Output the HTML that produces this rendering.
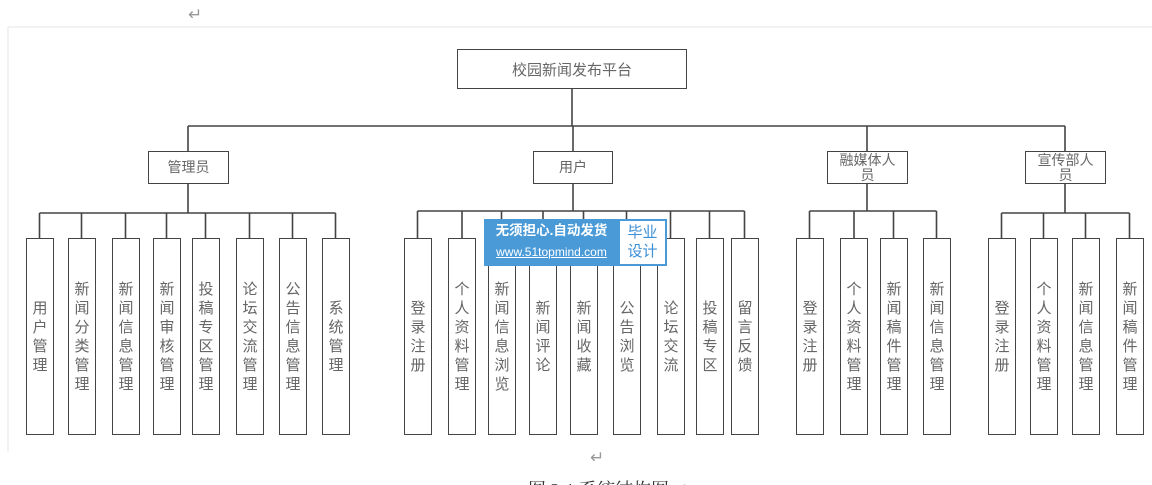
<!DOCTYPE html>
<html><head><meta charset="utf-8"><style>
body{margin:0;background:#fff;}
#c{position:relative;width:1152px;height:485px;overflow:hidden;background:#fff;font-family:"Liberation Sans","Noto Sans CJK SC",sans-serif;}
.b{position:absolute;box-sizing:border-box;border:1.5px solid #444;background:#fff;color:#666;display:flex;align-items:center;justify-content:center;text-align:center;}
.l{top:238px;width:28px;height:197px;font-size:15px;line-height:19px;}
.m{top:151px;height:33px;width:81px;font-size:14px;line-height:15px;}
svg{position:absolute;left:0;top:0;}
</style></head><body><div id="c">
<svg width="1152" height="485">
<line x1="8" y1="27" x2="1152" y2="27" stroke="#e4e4e4" stroke-width="1"/>
<line x1="8" y1="27" x2="8" y2="452" stroke="#e4e4e4" stroke-width="1"/>
<g stroke="#444" stroke-width="1.6" fill="none">
<line x1="572" y1="89" x2="572" y2="126"/>
<line x1="188" y1="126" x2="1065" y2="126"/>
<line x1="188" y1="126" x2="188" y2="151"/><line x1="573" y1="126" x2="573" y2="151"/>
<line x1="867" y1="126" x2="867" y2="151"/><line x1="1065" y1="126" x2="1065" y2="151"/>
<line x1="188" y1="183" x2="188" y2="213"/><line x1="39.5" y1="213" x2="335.5" y2="213"/>
<path d="M39.5 213V238M81.5 213V238M125.5 213V238M166.5 213V238M205.5 213V238M249.5 213V238M292.5 213V238M335.5 213V238"/>
<line x1="573" y1="183" x2="573" y2="211"/><line x1="417.5" y1="211" x2="744.5" y2="211"/>
<path d="M417.5 211V238M462 211V238M501.5 211V238M543 211V238M583.5 211V238M626.5 211V238M670.5 211V238M709.5 211V238M744.5 211V238"/>
<line x1="867" y1="183" x2="867" y2="211"/><line x1="809.5" y1="211" x2="936.5" y2="211"/>
<path d="M809.5 211V238M854 211V238M893.5 211V238M936.5 211V238"/>
<line x1="1065" y1="183" x2="1065" y2="213"/><line x1="1001.5" y1="213" x2="1129.5" y2="213"/>
<path d="M1001.5 213V238M1043.5 213V238M1085.5 213V238M1129.5 213V238"/>
</g>
<text x="188" y="20" font-size="17" fill="#999">↵</text>
<text x="590" y="463" font-size="17" fill="#999">↵</text>
<text x="528" y="496" font-size="18" fill="#333" font-family="Liberation Serif,Noto Serif CJK SC,serif">图 3-1 系统结构图 ↵</text>
</svg>
<div class="b" style="left:457px;top:49px;width:230px;height:40px;font-size:15px;">校园新闻发布平台</div>
<div class="b m" style="left:148px;">管理员</div>
<div class="b m" style="left:533px;width:80px;">用户</div>
<div class="b m" style="left:827px;align-items:flex-start;padding-top:1px;">融媒体人<br>员</div>
<div class="b m" style="left:1025px;align-items:flex-start;padding-top:1px;">宣传部人<br>员</div>

<div class="b l" style="left:26px">用<br>户<br>管<br>理</div>
<div class="b l" style="left:68px">新<br>闻<br>分<br>类<br>管<br>理</div>
<div class="b l" style="left:112px">新<br>闻<br>信<br>息<br>管<br>理</div>
<div class="b l" style="left:153px">新<br>闻<br>审<br>核<br>管<br>理</div>
<div class="b l" style="left:192px">投<br>稿<br>专<br>区<br>管<br>理</div>
<div class="b l" style="left:236px">论<br>坛<br>交<br>流<br>管<br>理</div>
<div class="b l" style="left:279px">公<br>告<br>信<br>息<br>管<br>理</div>
<div class="b l" style="left:322px">系<br>统<br>管<br>理</div>

<div class="b l" style="left:404px">登<br>录<br>注<br>册</div>
<div class="b l" style="left:448px">个<br>人<br>资<br>料<br>管<br>理</div>
<div class="b l" style="left:488px">新<br>闻<br>信<br>息<br>浏<br>览</div>
<div class="b l" style="left:529px">新<br>闻<br>评<br>论</div>
<div class="b l" style="left:570px">新<br>闻<br>收<br>藏</div>
<div class="b l" style="left:613px">公<br>告<br>浏<br>览</div>
<div class="b l" style="left:657px">论<br>坛<br>交<br>流</div>
<div class="b l" style="left:696px">投<br>稿<br>专<br>区</div>
<div class="b l" style="left:731px">留<br>言<br>反<br>馈</div>

<div class="b l" style="left:796px">登<br>录<br>注<br>册</div>
<div class="b l" style="left:840px">个<br>人<br>资<br>料<br>管<br>理</div>
<div class="b l" style="left:880px">新<br>闻<br>稿<br>件<br>管<br>理</div>
<div class="b l" style="left:923px">新<br>闻<br>信<br>息<br>管<br>理</div>

<div class="b l" style="left:988px">登<br>录<br>注<br>册</div>
<div class="b l" style="left:1030px">个<br>人<br>资<br>料<br>管<br>理</div>
<div class="b l" style="left:1072px">新<br>闻<br>信<br>息<br>管<br>理</div>
<div class="b l" style="left:1116px">新<br>闻<br>稿<br>件<br>管<br>理</div>

<div style="position:absolute;left:484px;top:219px;width:183px;height:47px;background:#4a9ad8;">
 <div style="position:absolute;left:0;top:3px;width:135px;text-align:center;color:#fff;font-size:13.5px;font-weight:bold;line-height:18px;">无须担心.自动发货</div>
 <div style="position:absolute;left:0;top:25px;width:135px;text-align:center;color:#fff;font-size:12px;line-height:16px;text-decoration:underline;">www.51topmind.com</div>
 <div style="position:absolute;left:136px;top:2px;width:45px;height:43px;background:#fff;color:#3a8fd6;font-size:15px;line-height:19px;text-align:center;padding-top:2px;box-sizing:border-box;">毕业<br>设计</div>
</div>
</div></body></html>
